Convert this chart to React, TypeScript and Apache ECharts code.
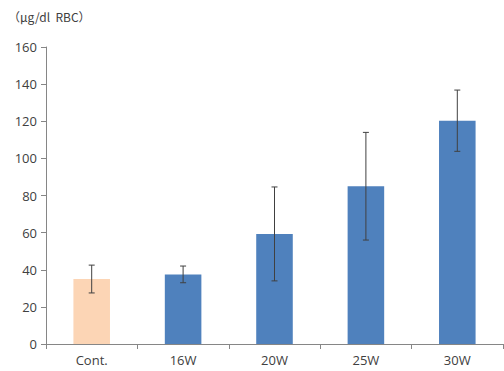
import React, { useEffect, useRef } from "react";
import * as echarts from "echarts";

const categories = ["Cont.", "16W", "20W", "25W", "30W"];
const means = [35, 37.5, 59.3, 85, 120.3];
const errors = [7.5, 4.5, 25.3, 29, 16.5];
const barColors = ["#fcd5b5", "#4f81bd", "#4f81bd", "#4f81bd", "#4f81bd"];
const yTicks = [0, 20, 40, 60, 80, 100, 120, 140, 160];

export default function App() {
  const ref = useRef<HTMLDivElement>(null);
  useEffect(() => {
    document.body.style.margin = "0";
    const chart = echarts.init(ref.current!, null, { renderer: "svg" });
    const errData = means.map((m, i) => [i, m - errors[i], m + errors[i]]);
    chart.setOption({
      animation: false,
      textStyle: { fontFamily: "Open Sans, Noto Sans, sans-serif" },
      graphic: [
        {
          type: "text",
          left: 8,
          top: 10,
          style: { text: "（μg/dl  RBC）", fontSize: 12, fill: "#404040", fontFamily: "Noto Sans CJK JP, sans-serif" },
        },
      ],
      grid: { left: 46, right: 1, top: 47, bottom: 27 },
      xAxis: {
        type: "category",
        data: categories,
        axisLine: { lineStyle: { color: "#868686" } },
        axisTick: { show: true, length: 5, lineStyle: { color: "#868686" } },
        axisLabel: { color: "#404040", fontSize: 13, margin: 9 },
      },
      yAxis: {
        type: "value",
        min: yTicks[0],
        max: yTicks[yTicks.length - 1],
        interval: 20,
        axisLine: { show: true, lineStyle: { color: "#868686" } },
        axisTick: { show: true, length: 5, lineStyle: { color: "#868686" } },
        splitLine: { show: false },
        axisLabel: { color: "#404040", fontSize: 13, margin: 9 },
      },
      series: [
        {
          type: "bar",
          barWidth: "40%",
          data: means.map((v, i) => ({ value: v, itemStyle: { color: barColors[i] } })),
        },
        {
          type: "custom",
          data: errData,
          z: 10,
          renderItem: (params: any, api: any) => {
            const x = api.value(0);
            const lo = api.coord([x, api.value(1)]);
            const hi = api.coord([x, api.value(2)]);
            const cap = 3;
            const style = { stroke: "#404040", lineWidth: 1 };
            return {
              type: "group",
              children: [
                { type: "line", shape: { x1: hi[0], y1: hi[1], x2: lo[0], y2: lo[1] }, style },
                { type: "line", shape: { x1: hi[0] - cap, y1: hi[1], x2: hi[0] + cap, y2: hi[1] }, style },
                { type: "line", shape: { x1: lo[0] - cap, y1: lo[1], x2: lo[0] + cap, y2: lo[1] }, style },
              ],
            };
          },
        },
      ],
    });
    return () => chart.dispose();
  }, []);
  return <div ref={ref} style={{ width: 504, height: 371, background: "#fff" }} />;
}
